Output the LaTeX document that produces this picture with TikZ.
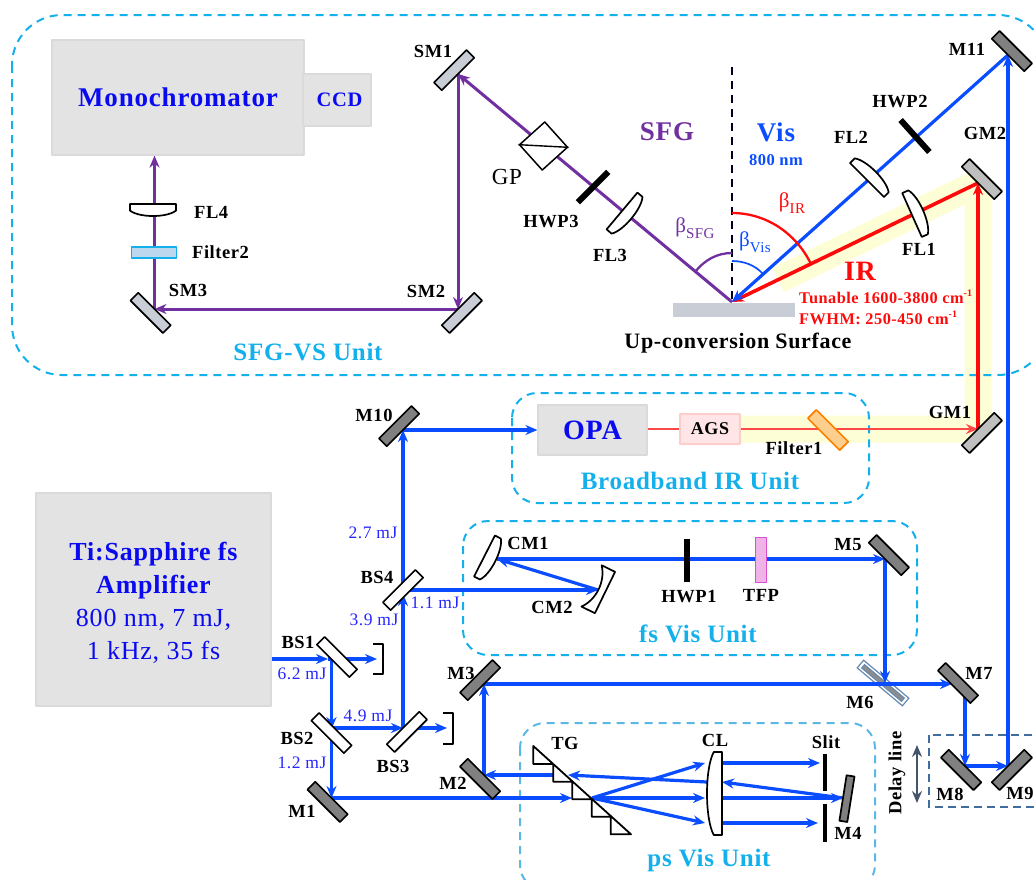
\documentclass[tikz,border=0pt]{standalone}
\usepackage{fontspec}
\setmainfont{Liberation Serif}[LetterSpace=3]
\usepackage{xcolor}
\usetikzlibrary{arrows.meta,backgrounds}
\definecolor{unitblue}{HTML}{14B0EC}
\definecolor{psblue}{HTML}{5BB7E5}
\definecolor{delayblue}{HTML}{3F6D9E}
\definecolor{delaygray}{HTML}{44546A}
\definecolor{beamblue}{HTML}{0A4CFF}
\definecolor{textblue}{HTML}{0A0AF0}
\definecolor{energyblue}{HTML}{2626FF}
\definecolor{sfgpurple}{HTML}{7030A0}
\definecolor{irred}{HTML}{FF0A0A}
\definecolor{opared}{HTML}{FF4848}
\definecolor{glow}{HTML}{FDFDD6}
\definecolor{boxgray}{HTML}{E3E3E3}
\definecolor{boxedge}{HTML}{DADADA}
\definecolor{silver}{HTML}{C8CDD6}
\definecolor{filterblue}{HTML}{BDD7EE}
\definecolor{filterorange}{HTML}{FDCF8F}
\definecolor{tfpfill}{HTML}{EFB3E8}
\definecolor{tfpedge}{HTML}{D94FD0}
\newcommand{\sbx}[1]{\raisebox{-0.28em}{\fontsize{15}{15}\selectfont #1}}
\newcommand{\spx}[1]{\raisebox{0.45em}{\fontsize{10}{10}\selectfont #1}}
\begin{document}
\begin{tikzpicture}[x=1pt,y=-1pt,>={Stealth[length=12pt,width=10pt]},line join=round,
  unit/.style={unitblue,line width=2pt,dash pattern=on 8pt off 6pt,rounded corners=25pt},
  graybox/.style={draw=boxedge,fill=boxgray,line width=1.2pt,inner sep=0pt},
  mirrorbase/.style={draw=black,line width=1.7pt,minimum width=46pt,minimum height=11pt,inner sep=0pt,outer sep=0pt},
  darkmirror/.style={mirrorbase,fill=black!50},
  silvermirror/.style={mirrorbase,fill=silver},
  greymirror/.style={mirrorbase,fill=black!25},
  splitter/.style={mirrorbase,fill=white},
  plate/.style={fill=black,minimum width=43pt,minimum height=6pt,inner sep=0pt,outer sep=0pt},
  lab/.style={inner sep=0pt,font=\bfseries\fontsize{18.5}{20}\selectfont},
  unitlab/.style={inner sep=0pt,text=unitblue,font=\bfseries\fontsize{25}{27}\selectfont},
  energy/.style={inner sep=0pt,text=energyblue,font=\fontsize{17.5}{20}\selectfont},
  angletext/.style={inner sep=0pt,font=\fontsize{21}{24}\selectfont},
  beam/.style={beamblue,line width=3.2pt},
  sfgbeam/.style={sfgpurple,line width=3pt},
  irbeam/.style={irred,line width=3.6pt},
  dump/.style={black,line width=2.3pt},
  pics/lens/.style 2 args={code={
    \draw[black,fill=white,line width=1.7pt] (0,-#1) -- (0,#1) -- (-0.55*#2,#1)
      .. controls (-1.15*#2,0.6*#1) and (-1.15*#2,-0.6*#1) .. (-0.55*#2,-#1) -- cycle;}},
  pics/hollow/.style 2 args={code={
    \draw[black,fill=white,line width=1.7pt] (0,-#1) -- (0,#1) -- (-#2,#1)
      .. controls (-0.3*#2,0.45*#1) and (-0.3*#2,-0.45*#1) .. (-#2,-#1) -- cycle;}}]
\useasboundingbox (0,0) rectangle (1034,879);

\node[graybox,minimum width=252pt,minimum height=115pt,text=textblue,font=\bfseries\fontsize{27}{30}\selectfont] (mono) at (178,97.5) {Monochromator};
\node[graybox,minimum width=68pt,minimum height=52pt,text=textblue,font=\bfseries\fontsize{20.5}{22}\selectfont] (ccd) at (337,100) {\hspace{5pt}CCD};
\node[graybox,minimum width=235pt,minimum height=213pt,align=center,text=textblue,font=\fontsize{26}{33}\selectfont] (laser) at (153.5,599.5) {\rule{0pt}{24pt}\bfseries Ti:Sapphire fs\\ \bfseries Amplifier\\ 800 nm, 7 mJ,\\ 1 kHz, 35 fs};
\node[graybox,minimum width=109pt,minimum height=50pt,text=textblue,font=\bfseries\fontsize{28}{30}\selectfont] (opa) at (592.5,430) {OPA};
\node[draw=red!20,fill=red!10,line width=1.4pt,minimum width=60pt,minimum height=30pt,inner sep=0pt,font=\bfseries\fontsize{18}{20}\selectfont] (ags) at (710,429) {AGS};
\node[fill=silver,minimum width=122pt,minimum height=14pt,inner sep=0pt] (surf) at (734,310) {};
\coordinate (hit) at (732,302);
\coordinate (normtop) at (732,67);

\node[silvermirror,rotate=45,anchor=south] (sm1) at (458,74) {};
\node[silvermirror,rotate=45,anchor=north] (sm2) at (458,309) {};
\node[silvermirror,rotate=-45,anchor=north] (sm3) at (154.5,309) {};
\node[draw=black,fill=white,line width=1.5pt,minimum size=34pt,inner sep=0pt,rotate=42] (gp) at (543.5,146) {};
\node[plate,rotate=45] (hwp3) at (593,187) {};
\node[plate,rotate=-48] (hwp2) at (915,136) {};
\node[plate,rotate=90] (hwp1) at (687,560) {};
\node[draw=unitblue,fill=filterblue,line width=1.7pt,minimum width=45pt,minimum height=11pt,inner sep=0pt] (filter2) at (154,252.5) {};
\node[draw=orange,fill=filterorange,line width=1.7pt,minimum width=45pt,minimum height=12pt,inner sep=0pt,rotate=-45] (filter1) at (828,430) {};
\node[draw=tfpedge,fill=tfpfill,line width=1.6pt,minimum width=11pt,minimum height=45pt,inner sep=0pt] (tfp) at (761,560) {};

\node[greymirror,rotate=-45,anchor=south] (gm2) at (978,183) {};
\node[greymirror,rotate=45,anchor=north] (gm1) at (978,429) {};
\node[darkmirror,rotate=-45,anchor=south] (m11) at (1008,55) {};
\node[darkmirror,rotate=45,anchor=south] (m10) at (403,430) {};
\node[darkmirror,rotate=-45,anchor=south] (m5) at (885,559) {};
\node[darkmirror,rotate=45,anchor=south] (m3) at (484,684) {};
\node[darkmirror,rotate=-45,anchor=north] (m2) at (484,775) {};
\node[darkmirror,rotate=-45,anchor=north] (m1) at (331.5,798) {};
\node[darkmirror,rotate=-45] (m7) at (958,683) {};
\node[darkmirror,rotate=-45,anchor=north] (m8) at (965,766) {};
\node[darkmirror,rotate=45,anchor=north] (m9) at (1008,766) {};
\node[darkmirror,rotate=81,minimum height=8pt,anchor=north] (m4) at (843,798) {};
\coordinate (m7in) at (952,684);
\coordinate (m7out) at (965,697);

\node[splitter,rotate=-45] (bs1) at (337,657) {};
\node[splitter,rotate=-45] (bs2) at (331.5,733) {};
\node[splitter,rotate=45,anchor=north] (bs3) at (403,728) {};
\node[splitter,rotate=45] (bs4) at (403,590) {};
\coordinate (bs1in) at (328,659);
\coordinate (bs1down) at (331.5,659);
\coordinate (bs1out) at (377,659);
\coordinate (bs3out) at (447,728);

\node[fill=black,minimum width=3.8pt,minimum height=37pt,inner sep=0pt] (slita) at (825,772.5) {};
\node[fill=black,minimum width=3.8pt,minimum height=38pt,inner sep=0pt] (slitb) at (825,823) {};

\pic[rotate=90] at (153,204) {lens={23}{12}};
\pic[rotate=140] at (622,211) {lens={24}{12}};
\pic[rotate=-135] at (867,180) {lens={24}{12}};
\pic[rotate=204] at (912,215) {lens={24}{12}};
\pic[rotate=153] at (484.5,556) {lens={23}{12}};
\pic[rotate=-26] at (605,592.5) {hollow={23}{15}};
\pic at (722,793.5) {lens={41.5}{15}};

% sawtooth grating
\draw[black,fill=white,line width=1.8pt] (533.3,746) -- (533.3,764) -- (553.3,764) -- (553.3,781.7) -- (572.3,781.7) -- (572.3,799.3) -- (591.7,799.3) -- (591.7,816.7) -- (610.7,816.7) -- (610.7,834.3) -- (631,834.3) -- cycle;
\coordinate (tgfocus) at (592,798);
\coordinate (tgback) at (568,775);
\coordinate (tgleft) at (553,775);
\coordinate (tgin) at (572,798);
\coordinate (cmtwo) at (598,590);
\coordinate (cmone) at (497,559);

\begin{scope}[on background layer]
\clip (0,0) rectangle (1034,879);
\draw[glow,line width=27pt,line join=bevel] (ags.east) -- (gm1.north) -- (gm2.south) -- (778,280);
\draw[unit,rounded corners=50pt] (12,15) rectangle (1048,375);
\draw[unit] (512,393) rectangle (869,503);
\draw[unit] (463,521) rectangle (917,655);
\draw[unit,psblue] (520,723) rectangle (875,890);
\draw[delayblue,line width=2.4pt,dash pattern=on 8pt off 5pt] (929,735) rectangle (1045,807);
\draw[black!85!blue,line width=2.6pt,dash pattern=on 8pt off 6pt] (normtop) -- (hit);
\node[draw=delayblue!80,fill=white,line width=1.2pt,minimum width=59pt,minimum height=10pt,inner sep=0pt,rotate=-40] (m6) at (883,683) {};
\node[draw=delayblue!80,fill=black!45,line width=1pt,minimum width=52pt,minimum height=4.5pt,inner sep=0pt,rotate=-40] (m6core) at (m6.center) {};

\draw[sfgbeam,->] (sm2.north) -- (sm3.north);
\draw[sfgbeam,->] (sm1.south) -- (sm2.north);
\draw[sfgbeam,->] (hit) -- (sm1.south);
\draw[sfgbeam,->] (sm3.north) -- (sm3.north |- mono.south);

\draw[opared,line width=2.6pt] (opa.east |- ags.west) -- (ags.west);
\draw[opared,line width=2.8pt,->] (ags.east) -- (gm1.north);
\draw[irbeam,->] (gm1.north) -- (gm2.south);
\draw[irbeam,->] (gm2.south) -- (hit);
\draw[beam,->] (m11.south) -- (hit);
\draw[beam,->] (m9.north) -- (m11.south);

\draw[beam,->] (laser.east |- bs1in) -- (bs1in);
\draw[beam,->] (bs1in) -- (bs1out);
\draw[beam,->] (bs1down) -- (bs2.center |- bs2.north);
\draw[beam,->] (bs2.center) -- (m1.north);
\draw[beam,->] (bs2.center |- bs3.north) -- (bs3.north);
\draw[beam,->] (bs3.north) -- (bs3out);
\draw[beam,->] (bs3.north) -- (bs3.north |- bs4.south);
\draw[beam,->] (bs4.center) -- (m10.south);
\draw[beam,->] (m10.south) -- (opa.west);
\draw[beam,->] (bs4.center) -- (cmtwo);
\draw[beam,->] (cmtwo) -- (cmone);
\draw[beam,->] (cmone) -- (m5.south);
\draw[beam,->] (m5.south) -- (m5.south |- m6.center);
\draw[beam,->] (m3.south) -- (m7in);
\draw[beam,->] (m7out) -- (m8.north);
\draw[beam,->] (m8.north) -- (m9.north);
\draw[beam,->] (m1.north) -- (tgin);
\draw[beam,->] (tgleft) -- (m2.north);
\draw[beam,->] (m2.north) -- (m3.south);
\draw[beam,->] (tgfocus) -- (705,763);
\draw[beam,->] (tgfocus) -- (705,798);
\draw[beam,->] (tgfocus) -- (705,823);
\draw[beam,->] (707,782) -- (tgback);
\draw[beam,->] (722,763) -- (820,763);
\draw[beam,->] (722,798) -- (m4.north);
\draw[beam,->] (722,823) -- (818,823);
\draw[beam,->] (m4.north) -- (722,782);
\end{scope}

\draw[black,line width=1.4pt] (gp.north west) -- (gp.south east);
\draw[dump] (373,644) -- (383,644) -- (383,674) -- (373,674);
\draw[dump] (443,713) -- (453,713) -- (453,744) -- (443,744);
\coordinate (delaytop) at (917,745);
\coordinate (delaybot) at (917,803);
\draw[<->,delaygray,line width=2pt] (delaytop) -- (delaybot);

\draw[irred,line width=2.3pt] (732,213) .. controls (766,213) and (795.5,233) .. (810.5,263);
\draw[beamblue,line width=1.7pt] (732,261) .. controls (743.6,261) and (755,265) .. (763,274);
\draw[sfgpurple,line width=2.3pt] (732,253) .. controls (717,253) and (704.5,260) .. (695,272);

\node[lab] (labsm1) at (433,51) {SM1};
\node[lab] (labsm2) at (426,291) {SM2};
\node[lab] (labsm3) at (188,290) {SM3};
\node[lab,anchor=west] (labfl4) at (194,212) {FL4};
\node[lab,anchor=west] (labfilter2) at (192,252) {Filter2};
\node[inner sep=0pt,font=\fontsize{23}{26}\selectfont] (labgp) at (507,177) {GP};
\node[lab] (labhwp3) at (551,222) {HWP3};
\node[lab] (labfl3) at (610,255) {FL3};
\node[lab] (labfl2) at (851,137) {FL2};
\node[lab] (labfl1) at (919,249) {FL1};
\node[lab] (labhwp2) at (900,102) {HWP2};
\node[lab] (labgm2) at (985,133) {GM2};
\node[lab] (labm11) at (967,49) {M11};
\node[lab] (labgm1) at (950,412) {GM1};
\node[lab] (labfilter1) at (794,448) {Filter1};
\node[lab] (labm10) at (374,415) {M10};
\node[lab] (labbs4) at (377,577) {BS4};
\node[lab] (labbs1) at (298,642) {BS1};
\node[lab] (labbs2) at (297,738) {BS2};
\node[lab] (labbs3) at (393,766) {BS3};
\node[lab] (labm1) at (302,811) {M1};
\node[lab] (labm2) at (453,783) {M2};
\node[lab] (labm3) at (461,673) {M3};
\node[lab] (labm4) at (848,833) {M4};
\node[lab] (labm5) at (848,545) {M5};
\node[lab] (labm6) at (860,702) {M6};
\node[lab] (labm7) at (979,673) {M7};
\node[lab] (labm8) at (950,794) {M8};
\node[lab] (labm9) at (1020,793) {M9};
\node[lab] (labcm1) at (528,543) {CM1};
\node[lab] (labcm2) at (552,607) {CM2};
\node[lab] (labhwp1) at (689,597) {HWP1};
\node[lab] (labtfp) at (761,595) {TFP};
\node[lab] (labtg) at (565,743) {TG};
\node[lab] (labcl) at (715,740) {CL};
\node[lab] (labslit) at (826,742) {Slit};
\node[lab,rotate=90] (labdelay) at (897,773) {Delay line};
\node[inner sep=0pt,font=\bfseries\fontsize{22}{24}\selectfont] (labsurf) at (738,343) {Up-conversion Surface};

\node[energy] (e27) at (373,533) {2.7 mJ};
\node[energy] (e39) at (374,620) {3.9 mJ};
\node[energy] (e11) at (435,603) {1.1 mJ};
\node[energy] (e62) at (302,674) {6.2 mJ};
\node[energy] (e49) at (368,716) {4.9 mJ};
\node[energy] (e12) at (302,763) {1.2 mJ};

\node[inner sep=0pt,text=sfgpurple,font=\bfseries\fontsize{27}{30}\selectfont] (labsfg) at (667,132) {SFG};
\node[inner sep=0pt,text=beamblue,font=\bfseries\fontsize{27}{30}\selectfont] (labvis) at (776,132) {Vis};
\node[inner sep=0pt,text=beamblue,font=\bfseries\fontsize{16.5}{18}\selectfont] (labnm) at (776,160) {800 nm};
\node[inner sep=0pt,text=irred,font=\bfseries\fontsize{28}{30}\selectfont] (labir) at (860,271) {IR};
\node[inner sep=0pt,anchor=west,text=irred,font=\bfseries\fontsize{16.3}{18}\selectfont] (labtune) at (799,297) {Tunable 1600-3800 cm\spx{-1}};
\node[inner sep=0pt,anchor=west,text=irred,font=\bfseries\fontsize{16.3}{18}\selectfont] (labfwhm) at (799,318) {FWHM: 250-450 cm\spx{-1}};
\node[angletext,text=irred] (labbir) at (792,203) {β\sbx{IR}};
\node[angletext,text=sfgpurple] (labbsfg) at (695,228) {β\sbx{SFG}};
\node[angletext,text=beamblue] (labbvis) at (755,242) {β\sbx{Vis}};

\node[unitlab] (unitsfg) at (308,352) {SFG-VS Unit};
\node[unitlab] (unitir) at (690,481) {Broadband IR Unit};
\node[unitlab] (unitfs) at (698,634) {fs Vis Unit};
\node[unitlab] (unitps) at (709,860) {ps Vis Unit};
\end{tikzpicture}
\end{document}
